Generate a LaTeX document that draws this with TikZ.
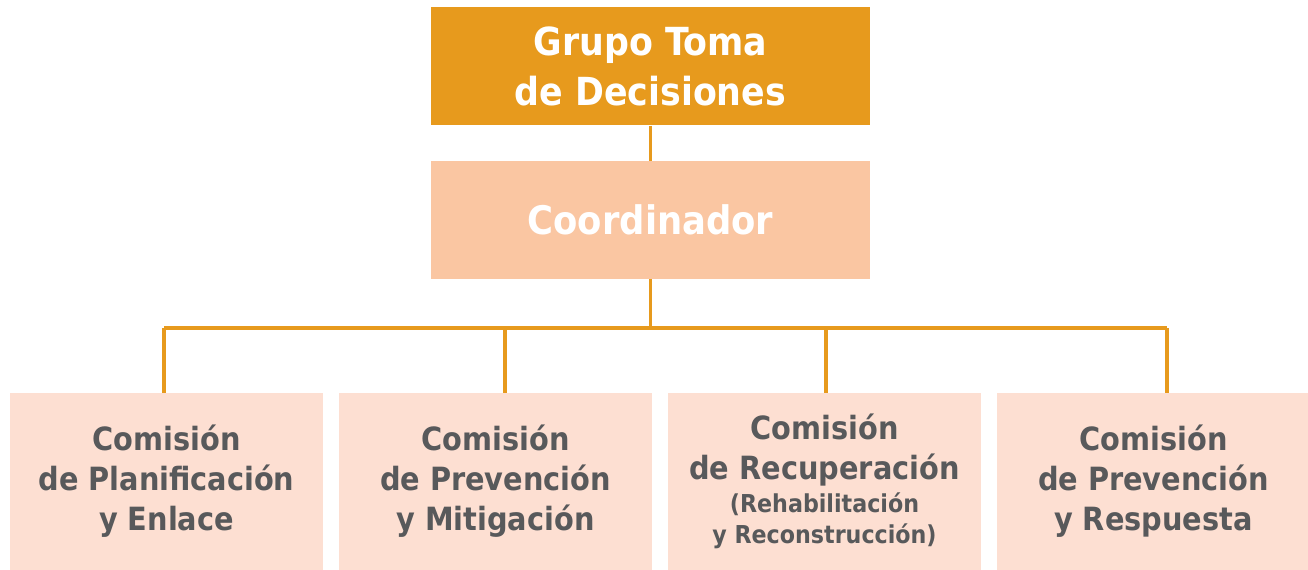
\documentclass[tikz,border=0pt]{standalone}
\usepackage{fontspec}
\setmainfont{DejaVu Sans Condensed}
\usetikzlibrary{positioning}
\definecolor{tomaorange}{HTML}{E79A1D}
\definecolor{coordpeach}{HTML}{FAC6A2}
\definecolor{comipeach}{HTML}{FDDFD2}
\definecolor{comigray}{HTML}{58595B}
\newcommand{\chico}{\fontsize{18.5}{22}\selectfont}

\begin{document}
\begin{tikzpicture}[x=0.75pt,y=-0.75pt]
 \tikzset{grupo node/.style={rectangle, fill=tomaorange, text=white,
 		align=center, minimum width=329.25pt, minimum height=88.5pt,
 		font=\bfseries\fontsize{29}{38}\selectfont}, }
 \tikzset{coord node/.style={rectangle, fill=coordpeach, text=white,
 		align=center, minimum width=329.25pt, minimum height=88.5pt,
 		font=\bfseries\fontsize{29.5}{35}\selectfont}, }
 \tikzset{comision node/.style={rectangle, fill=comipeach, text=comigray,
 		align=center, minimum width=234.75pt, minimum height=132.75pt,
 		inner sep=0pt, font=\bfseries\fontsize{24}{30}\selectfont}, }
 \tikzset{linea/.style={draw=tomaorange, line width=2.5pt},}
 \useasboundingbox (0,0) rectangle (1308,570);
 \node[coord node] (coord) at (650.5,220) {Coordinador};
 \node[grupo node] (grupo) [above =26.25pt of coord] {Grupo Toma\\de Decisiones};
 \node[comision node] (com1) at (166.5,481.5) {Comisión\\de Planificación\\y Enlace};
 \node[comision node] (com2) [right =11.6pt of com1] {Comisión\\de Prevención\\y Mitigación};
 \node[comision node] (com3) [right =11.6pt of com2] {Comisión\\de Recuperación\\[-5pt]
 	\chico(Rehabilitación\\[-7pt] \chico y Reconstrucción)};
 \node[comision node] (com4) [right =11.6pt of com3] {Comisión\\de Prevención\\y Respuesta};
 \coordinate (b1) at (164,328);
 \coordinate (b2) at (505,328);
 \coordinate (b3) at (826,328);
 \coordinate (b4) at (1167,328);
 \path[linea] (grupo) -- (coord);
 \path[linea] (coord.south) -- (coord.south |- b1);
 \path[linea] (b1) -- (b4);
 \foreach \x /\y in{b1/com1,b2/com2,b3/com3,b4/com4}
 \path[linea] (\x) -- (\x |- \y.north);
 %%
\end{tikzpicture}
\end{document}
